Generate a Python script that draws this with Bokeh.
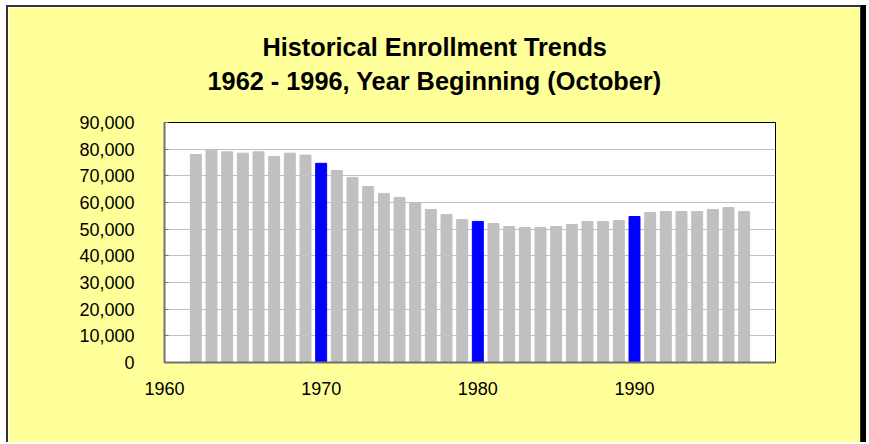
from bokeh.plotting import figure
from bokeh.models import Title, NumeralTickFormatter, SingleIntervalTicker, FixedTicker, Range1d, ColumnDataSource
from bokeh.embed import file_html
from bokeh.resources import INLINE

# ---- data ----
years = list(range(1962, 1998))
enrollment = [78000, 79800, 79000, 78500, 79000, 77300, 78500, 77800,
              74700, 72000, 69400, 66000, 63400, 61900, 60000, 57400,
              55500, 53600, 52900, 52100, 51000, 50600, 50600, 51000,
              51750, 52900, 52900, 53250, 54750, 56250, 56600, 56600,
              56600, 57400, 58100, 56600]
highlight_years = [1970, 1980, 1990]
x_ticks = [1960, 1970, 1980, 1990]
title_lines = ["Historical Enrollment Trends", "1962 - 1996, Year Beginning (October)"]

colors = ["#0000FF" if y in highlight_years else "#C0C0C0" for y in years]
src = ColumnDataSource(dict(x=years, top=enrollment, color=colors))

FONT = "Liberation Sans"

p = figure(width=855, height=437, output_backend="svg", toolbar_location=None,
           x_range=Range1d(1960, 1999), y_range=Range1d(0, 90000),
           min_border_left=156, min_border_right=88, min_border_top=115, min_border_bottom=82)

p.styles = {"margin-left": "6px", "margin-top": "5px",
            "border-left": "2px solid #333333", "border-top": "2px solid #333333",
            "border-right": "1px solid #333333",
            "box-shadow": "5px 0px 0px #000000"}

p.border_fill_color = "#FFFF99"
p.background_fill_color = "#FFFFFF"
p.outline_line_color = "#000000"
p.outline_line_width = 1

p.vbar(x="x", top="top", width=0.7, color="color", source=src)

# axes
p.yaxis.ticker = SingleIntervalTicker(interval=10000)
p.yaxis.formatter = NumeralTickFormatter(format="0,0")
p.xaxis.ticker = FixedTicker(ticks=x_ticks)
for ax in (p.xaxis, p.yaxis):
    ax.major_label_text_font = FONT
    ax.major_label_text_font_size = "18px"
    ax.major_label_text_color = "#000000"
    ax.minor_tick_line_color = None
    ax.axis_line_color = "#707070"
    ax.axis_line_width = 2
p.xaxis.major_tick_line_color = None
p.xaxis.major_label_standoff = 13
p.yaxis.major_tick_in = 4
p.yaxis.major_tick_out = 0
p.yaxis.major_tick_line_color = "#707070"
p.yaxis.major_label_standoff = 26

p.xgrid.grid_line_color = None
p.ygrid.grid_line_color = "#C0C0C0"
p.ygrid.grid_line_width = 1

# spacer between frame and title (first added sits closest to the frame)
p.add_layout(Title(text=" ", text_font_size="1px", standoff=25), "above")
# title lines, left-offset so they centre on the whole chart
p.add_layout(Title(text=title_lines[1], align="left", offset=43, text_font=FONT,
                   text_font_size="25.3px", text_font_style="bold", text_color="#000000",
                   standoff=0), "above")
p.add_layout(Title(text=title_lines[0], align="left", offset=98, text_font=FONT,
                   text_font_size="25.3px", text_font_style="bold", text_color="#000000",
                   standoff=7), "above")

open("out.html", "w").write(file_html(p, INLINE))
